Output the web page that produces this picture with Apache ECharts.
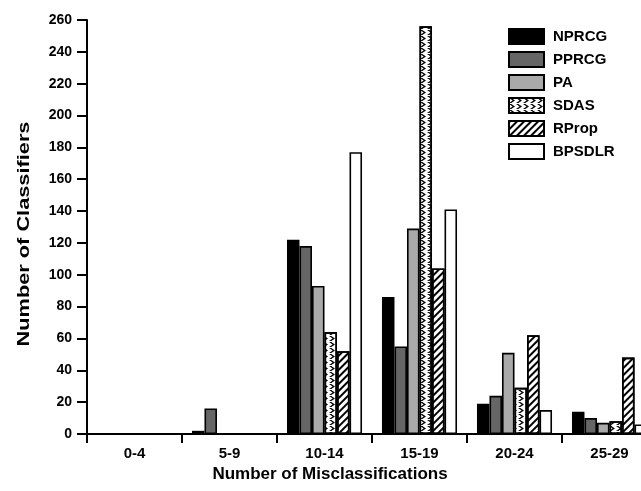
<!DOCTYPE html>
<html><head><meta charset="utf-8">
<script src="https://cdn.jsdelivr.net/npm/echarts@6/dist/echarts.min.js"></script>
<style>html,body{margin:0;padding:0;background:#fff}#c{width:641px;height:491px}</style>
</head><body><div id="c"></div>
<script>
const categories = ['0-4','5-9','10-14','15-19','20-24','25-29'];
const NPRCG  = [0, 2, 122, 86, 19, 14];
const PPRCG  = [0, 16, 118, 55, 24, 10];
const PA     = [0, 0, 93, 129, 51, 7];
const SDAS   = [0, 0, 64, 256, 29, 8];
const RProp  = [0, 0, 52, 104, 62, 48];
const BPSDLR = [0, 0, 177, 141, 15, 6];
const yTicks = {min: 0, max: 260, interval: 20};

const FONT = 'Liberation Sans, Arial, sans-serif';
const chart = echarts.init(document.getElementById('c'), null, {renderer: 'canvas'});
function ser(name, data, color, decal) {
  const it = {color: color, borderColor: '#000', borderWidth: 1.6};
  if (decal) it.decal = decal;
  return {name, type: 'bar', data, barGap: '0%', barCategoryGap: '21%', itemStyle: it, emphasis: {disabled: true}};
}
const sdasDecal = {symbol: 'path://M0,0L4,4L0,8L2.5,8L6.5,4L2.5,0Z', symbolSize: 1, symbolKeepAspect: false, color: '#000', dashArrayX: [6, 1], dashArrayY: [5, 1], rotation: 0};
const rpropDecal = {symbol: 'rect', symbolSize: 1, color: '#000', dashArrayX: [1, 0], dashArrayY: [2, 3], rotation: -Math.PI / 4};
chart.setOption({
  animation: false,
  aria: {enabled: false},
  textStyle: {fontFamily: FONT},
  grid: {left: 87, top: 20, right: -16, bottom: 57, containLabel: false, outerBoundsMode: 'none'},
  legend: {
    orient: 'vertical', left: 503, top: 23, itemWidth: 35, itemHeight: 15, itemGap: 6,
    icon: 'rect',
    textStyle: {fontFamily: FONT, fontWeight: 'bold', fontSize: 15, lineHeight: 15, color: '#000', padding: [0, 0, 0, 4]},
    data: ['NPRCG', 'PPRCG', 'PA', 'SDAS', 'RProp', 'BPSDLR']
  },
  xAxis: {
    type: 'category', data: categories,
    axisLine: {lineStyle: {color: '#000', width: 2}},
    axisTick: {show: true, length: 9, lineStyle: {color: '#000', width: 2}},
    axisLabel: {color: '#000', fontWeight: 'bold', fontSize: 15, margin: 12, fontFamily: FONT}
  },
  yAxis: {
    type: 'value', min: yTicks.min, max: yTicks.max, interval: yTicks.interval,
    splitLine: {show: false},
    axisLine: {show: true, lineStyle: {color: '#000', width: 2}},
    axisTick: {show: true, length: 10, lineStyle: {color: '#000', width: 2}},
    axisLabel: {color: '#000', fontWeight: 'bold', fontSize: 14, margin: 15, fontFamily: FONT}
  },
  graphic: [
    {type: 'text', x: 330, y: 474, style: {text: 'Number of Misclassifications', fontFamily: FONT, fontWeight: 'bold', fontSize: 17, fill: '#000', align: 'center', verticalAlign: 'middle'}},
    {type: 'text', x: 24, y: 234, rotation: Math.PI / 2, scaleX: 1.28, style: {text: 'Number of Classifiers', fontFamily: FONT, fontWeight: 'bold', fontSize: 17, fill: '#000', align: 'center', verticalAlign: 'middle'}}
  ],
  series: [
    ser('NPRCG', NPRCG, '#000'),
    ser('PPRCG', PPRCG, '#666'),
    ser('PA', PA, '#aaa'),
    ser('SDAS', SDAS, '#fff', sdasDecal),
    ser('RProp', RProp, '#fff', rpropDecal),
    ser('BPSDLR', BPSDLR, '#fff')
  ]
});
</script></body></html>
